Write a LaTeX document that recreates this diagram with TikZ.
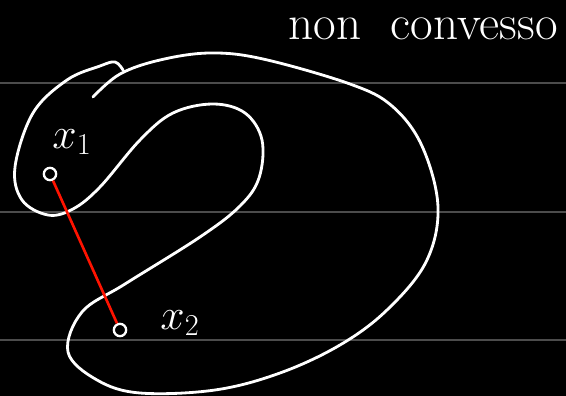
\documentclass[tikz,border=0pt]{standalone}
\usepackage{amsmath}

\begin{document}
\begin{tikzpicture}[x=0.02cm,y=-0.02cm,thick,
        chalk/.style={white, line width=1.6pt, line cap=round, line join=round},
        ruled/.style={gray!60!black, line width=0.7pt},
        dotpt/.style={draw=white, line width=1.3pt, circle, inner sep=0pt, minimum size=7pt}]
        % board
        \fill[black] (0,0) rectangle (566,396);
        \useasboundingbox (0,0) rectangle (566,396);
        \foreach \y in {83,212,340}
            \draw[ruled] (0,\y) -- (566,\y);

        % the set
        \draw[chalk] plot[smooth, tension=0.6] coordinates {
            (93,97) (120,74) (160,60) (210,53) (263,59) (350,84) (392,106)
            (422,146) (438,207) (426,262) (387,310) (340,345) (280,373)
            (215,390) (140,393) (97,380) (68,352) (82,312) (125,284)
            (200,237) (240,206) (259,178) (262,140) (245,113) (213,104)
            (173,113) (140,140) (100,187) (73,209) (48,215) (22,200)
            (15,167) (33,113) (67,80) (100,66) (115,62) (123,70)};

        % points
        \node (p1) [dotpt] at (50,174) {};
        \node (p2) [dotpt] at (120,330) {};
        \node (lab1) at (72,142) {\fontsize{24}{28}\selectfont\color{white}$x_1$};
        \node (lab2) at (180,323) {\fontsize{24}{28}\selectfont\color{white}$x_2$};
        \draw[red!85!orange, line width=1.5pt] (p1) -- (p2);

        \node (title) at (423,29) {\fontsize{28}{32}\selectfont\color{white}non\hspace{0.6em}convesso};
    \end{tikzpicture}
\end{document}
